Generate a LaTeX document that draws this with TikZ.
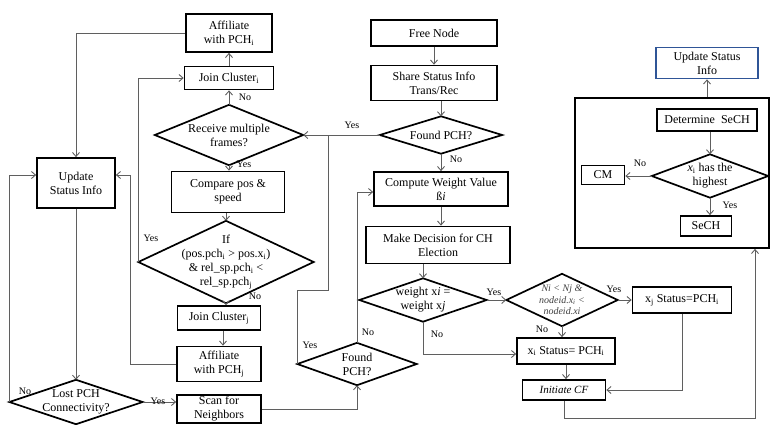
\documentclass[tikz,border=0pt]{standalone}
\usepackage{fontspec}
\setmainfont{Liberation Serif}
\usetikzlibrary{arrows.meta}
\definecolor{conncol}{RGB}{95,95,95}
\definecolor{bluebox}{RGB}{47,85,151}
\newcommand\dmdout[1]{\draw[boxline] (#1.north)--(#1.east)--(#1.south)--(#1.west)--cycle;}
\begin{document}
\begin{tikzpicture}[x=1pt,y=-1pt,
  every node/.style={font=\fontsize{12}{14}\selectfont, align=center, inner sep=0pt},
  boxline/.style={draw=black, line width=1.7pt},
  box/.style={boxline},
  wh/.style 2 args={minimum width=#1pt, minimum height=#2pt},
  conn/.style={draw=conncol, line width=0.9pt, -{Straight Barb[length=4pt,width=7pt]}},
  plain/.style={draw=conncol, line width=0.9pt},
  lbl/.style={font=\fontsize{10}{12}\selectfont}]
\useasboundingbox (0,0) rectangle (770,424);

% left column
\node[box, wh={86}{38}] (affI) at (229,33) {Affiliate\\with PCH\textsubscript{i}};
\node[box, wh={89}{23}] (joinI) at (229,78) {Join Cluster\textsubscript{i}};
\node[wh={148}{60}] (recv) at (229,135) {Receive multiple\\frames?};
\node[box, wh={113}{41}] (comp) at (228,192) {Compare pos \&\\speed};
\node[wh={175}{82}] (ifd) at (226,262) {If\\(pos.pch\textsubscript{i} > pos.x\textsubscript{i})\\\& rel\_sp.pch\textsubscript{i} <\\rel\_sp.pch\textsubscript{j}};
\node[box, wh={83}{24}] (joinJ) at (219,318) {Join Cluster\textsubscript{j}};
\node[box, wh={84}{35}] (affJ) at (219,364) {Affiliate\\with PCH\textsubscript{j}};
\node[box, wh={84}{28}] (scan) at (219,409) {Scan for\\Neighbors};
\node[box, wh={78}{50}] (upd) at (76,183) {Update\\Status Info};
\node[wh={133}{44}] (lost) at (76,402) {Lost PCH\\Connectivity?};

% middle column
\node[box, wh={126}{26}] (free) at (434,33) {Free Node};
\node[box, wh={126}{35}] (share) at (434,83) {Share Status Info\\Trans/Rec};
\node[wh={122}{37}] (fpch) at (441,135) {Found PCH?};
\node[box, wh={134}{34}] (compw) at (441,189) {Compute Weight Value\\ß\textit{i}};
\node[box, wh={144}{37}] (mdec) at (438,245) {Make Decision for CH\\Election};
\node[wh={127}{43}] (wdia) at (423,300) {weight x\textit{i} =\\weight x\textit{j}};
\node[wh={111}{52}, font=\fontsize{10}{11.5}\selectfont\itshape, text=black!75] (ndia) at (562,300) {N\textit{i} < N\textit{j} \&\\nodeid.x\textsubscript{i} <\\nodeid.xi};
\node[box, wh={99}{26}] (xj) at (682,300) {x\textsubscript{j} Status=PCH\textsubscript{i}};
\node[box, wh={98}{26}] (xi) at (566,351) {x\textsubscript{i} Status= PCH\textsubscript{i}};
\node[box, wh={83}{20}, font=\fontsize{11}{13}\selectfont\itshape] (icf) at (564,390) {Initiate CF};
\node[wh={119}{42}] (fpch2) at (357,364) {Found\\PCH?};

% right part
\node[box, wh={194}{150}] (big) at (672,173) {};
\node[box, draw=bluebox, wh={102}{31}] (upd2) at (707,63) {Update Status\\Info};
\node[box, wh={100}{22}] (det) at (707,120) {Determine\ \ SeCH};
\node[wh={116}{43}] (hdia) at (710,176) {\textit{x}\textsubscript{i} has the\\highest};
\node[box, wh={43}{19}] (cm) at (603,175) {CM};
\node[box, wh={51}{20}] (sech) at (706,226) {SeCH};

% diamond outlines
\dmdout{recv}
\dmdout{ifd}
\dmdout{lost}
\dmdout{fpch}
\dmdout{wdia}
\dmdout{ndia}
\dmdout{fpch2}
\dmdout{hdia}

% connectors left
\draw[conn] (affI.west) -| (upd.north);
\draw[conn] (upd.south) -- (lost.north);
\draw[conn] (lost.west) |- ([yshift=8pt]upd.west);
\draw[conn] (lost.east) -- (lost.east -| scan.west);
\coordinate (affJturn) at (130,364);
\draw[conn] (affJ.west) -- (affJturn) |- ([yshift=8pt]upd.east);
\draw[conn] (ifd.west) |- (joinI.west);
\draw[conn] (recv.north) -- (joinI.south);
\draw[conn] (joinI.north) -- (affI.south);
\draw[conn] (recv.south) -- (recv.south |- comp.north);
\draw[conn] (ifd.north |- comp.south) -- (ifd.north);
\draw[conn] (ifd.south) -- (ifd.south |- joinJ.north);
\draw[conn] ([xshift=4pt]joinJ.south) -- ([xshift=4pt]affJ.north);

% connectors middle
\draw[conn] (free.south) -- (share.north);
\draw[conn] (fpch.north |- share.south) -- (fpch.north);
\draw[conn] (fpch.west) -- (recv.east);
\draw[conn] (fpch.south) -- (fpch.south |- compw.north);
\draw[conn] (compw.south) -- (compw.south |- mdec.north);
\draw[conn] (wdia.north |- mdec.south) -- (wdia.north);
\draw[conn] (wdia.east) -- (ndia.west);
\draw[conn] (wdia.south) |- ([yshift=-3pt]xi.west);
\draw[conn] (ndia.east) -- (ndia.east -| xj.west);
\draw[conn] (ndia.south) -- (ndia.south |- xi.north);
\draw[conn] (xi.south) -- (xi.south |- icf.north);
\draw[conn] (xj.south) |- (icf.east);
\coordinate (cfturn) at (755,418);
\draw[conn] (icf.south) |- (cfturn) -- (cfturn |- big.south);
\draw[conn] (scan.east) -| (fpch2.south);
\coordinate (yesjoin) at (328,135);
\draw[plain] (fpch2.west) |- (328,290) -- (yesjoin);
\draw[conn] (fpch2.north) |- ([yshift=-3pt]compw.west);

% connectors right
\draw[conn] (upd2.south |- big.north) -- (upd2.south);
\draw[conn] (hdia.north |- det.south) -- (hdia.north);
\draw[conn] (hdia.west) -- (hdia.west -| cm.east);
\draw[conn] (hdia.south) -- (hdia.south |- sech.north);

% labels
\node[lbl] (l1) at (245,97) {No};
\node[lbl] (l2) at (244,164) {Yes};
\node[lbl] (l3) at (151,238) {Yes};
\node[lbl] (l4) at (255,296) {No};
\node[lbl] (l5) at (25,391) {No};
\node[lbl] (l6) at (158,401) {Yes};
\node[lbl] (l7) at (352,125) {Yes};
\node[lbl] (l8) at (456,159) {No};
\node[lbl] (l9) at (494,292) {Yes};
\node[lbl] (l10) at (437,334) {No};
\node[lbl] (l11) at (614,289) {Yes};
\node[lbl] (l12) at (542,329) {No};
\node[lbl] (l13) at (310,345) {Yes};
\node[lbl] (l14) at (368,332) {No};
\node[lbl] (l15) at (640,163) {No};
\node[lbl] (l16) at (730,205) {Yes};
\end{tikzpicture}
\end{document}
